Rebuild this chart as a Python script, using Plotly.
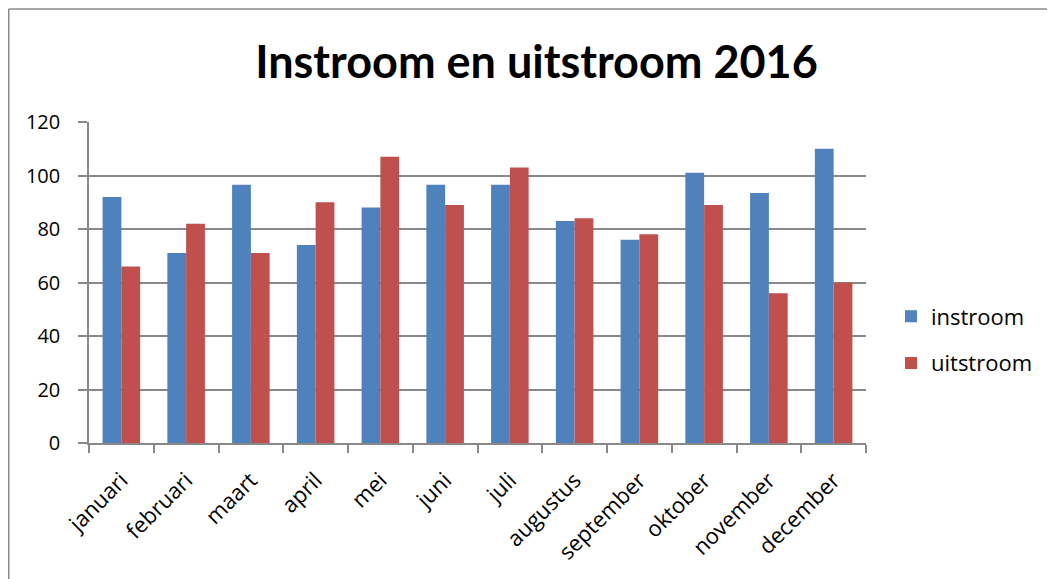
import plotly.graph_objects as go

months = ["januari", "februari", "maart", "april", "mei", "juni", "juli",
          "augustus", "september", "oktober", "november", "december"]
instroom = [92, 71, 96.5, 74, 88, 96.5, 96.5, 83, 76, 101, 93.5, 110]
uitstroom = [66, 82, 71, 90, 107, 89, 103, 84, 78, 89, 56, 60]
y_ticks = [0, 20, 40, 60, 80, 100, 120]

OFF = 8  # page body margin offset
W, H = 1055 - OFF, 579 - OFF
L, R, T, B = 89 - OFF, 866 - OFF, 122 - OFF, 443 - OFF


def px_x(p):
    return (p - OFF - L) / (R - L)


def px_y(p):
    return (B - (p - OFF)) / (B - T)


fig = go.Figure()
fig.add_trace(go.Bar(x=months, y=instroom, name="instroom",
                     marker=dict(color="#4F81BD", line=dict(width=0)),
                     legendgroup="a"))
fig.add_trace(go.Bar(x=months, y=uitstroom, name="uitstroom",
                     marker=dict(color="#C0504D", line=dict(width=0)),
                     legendgroup="b"))

grid = "#888888"
tickfont = "Open Sans, Noto Sans, sans-serif"
fig.update_layout(
    width=W, height=H,
    margin=dict(l=L, r=W - R, t=T, b=H - B, pad=0),
    paper_bgcolor="white", plot_bgcolor="white",
    barmode="group", bargap=0.42, bargroupgap=0,
    font=dict(family=tickfont, size=20, color="#000000"),
    title=dict(text="<b>Instroom en uitstroom 2016</b>",
               font=dict(family="Lato, Open Sans, sans-serif", size=45, color="#000000"),
               x=(536.5 - OFF) / W, xanchor="center", xref="container",
               y=1 - (62 - OFF) / H, yanchor="middle", yref="container"),
    legend=dict(x=px_x(891), y=px_y(340), xanchor="left", yanchor="middle",
                font=dict(family=tickfont, size=22), tracegroupgap=15,
                bgcolor="rgba(0,0,0,0)"),
    xaxis=dict(showgrid=False, showline=True, linecolor=grid, linewidth=1.5,
               ticks="outside", tickson="boundaries", ticklen=8, tickcolor=grid,
               tickwidth=1.5, tickangle=-45, ticklabelstandoff=14,
               tickfont=dict(family=tickfont, size=22)),
    yaxis=dict(range=[0, 120], tickvals=y_ticks, showgrid=True, gridcolor=grid,
               gridwidth=1.5, showline=True, linecolor=grid, linewidth=1.5,
               ticks="outside", ticklen=9, tickcolor=grid, tickwidth=1.5,
               ticklabelstandoff=14,
               tickfont=dict(family=tickfont, size=20), zeroline=False),
    shapes=[
        dict(type="line", xref="paper", yref="paper",
             x0=px_x(8.75), x1=px_x(1060), y0=px_y(9), y1=px_y(9),
             line=dict(color="#8a8a8a", width=1.5)),
        dict(type="line", xref="paper", yref="paper",
             x0=px_x(8.75), x1=px_x(8.75), y0=px_y(9), y1=px_y(585),
             line=dict(color="#8a8a8a", width=1.5)),
    ],
)

fig.write_html("out.html")
